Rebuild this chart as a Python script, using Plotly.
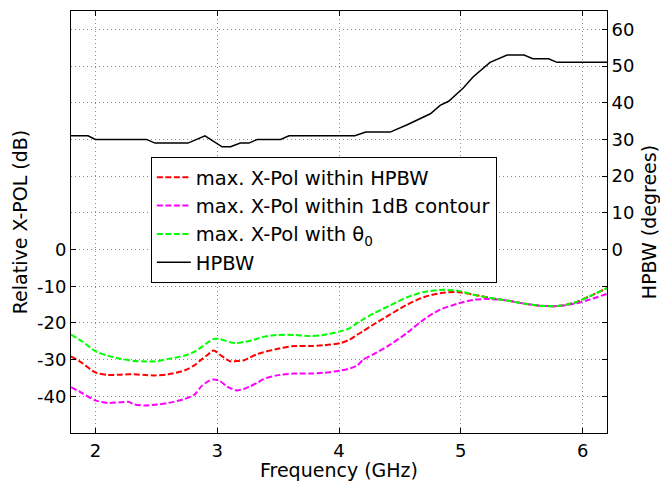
import plotly.graph_objects as go

# ---- data ----
freq_xpol = [1.80, 1.89, 2.00, 2.10, 2.21, 2.27, 2.32, 2.41, 2.49, 2.60, 2.735, 2.815, 2.87, 2.925,
             2.97, 3.02, 3.08, 3.11, 3.16, 3.22, 3.27, 3.33, 3.38, 3.49, 3.63, 3.76, 3.87, 4.01,
             4.09, 4.15, 4.20, 4.28, 4.42, 4.56, 4.695, 4.83, 4.97, 5.105, 5.24, 5.38, 5.515,
             5.65, 5.79, 5.93, 6.06, 6.20]
xpol_hpbw = [-29.1, -30.9, -33.5, -34.2, -34.1, -34.0, -34.0, -34.2, -34.3, -34.0, -32.9, -31.5, -30.0, -28.6,
             -27.5, -28.6, -30.0, -30.5, -30.4, -30.2, -29.4, -28.5, -28.0, -27.1, -26.3, -26.3, -26.1, -25.5,
             -24.5, -23.2, -22.2, -20.5, -17.7, -15.0, -13.0, -11.9, -11.6, -12.3, -13.2, -13.9, -14.7,
             -15.3, -15.4, -14.5, -12.7, -10.5]
xpol_1db = [-37.5, -39.1, -41.1, -41.8, -41.6, -41.5, -42.2, -42.5, -42.3, -41.8, -40.7, -39.5, -37.3, -35.9,
            -35.4, -35.8, -37.3, -37.8, -38.4, -38.0, -37.3, -36.3, -35.3, -34.3, -33.8, -33.8, -33.6, -33.0,
            -32.4, -31.6, -30.0, -28.6, -25.9, -22.7, -19.1, -16.4, -14.8, -13.7, -13.5, -13.9, -14.7,
            -15.3, -15.4, -14.8, -13.6, -12.1]
xpol_theta0 = [-23.2, -25.0, -27.7, -28.9, -29.8, -30.1, -30.4, -30.5, -30.5, -29.8, -28.9, -27.8, -26.6, -25.3,
               -24.4, -24.4, -25.0, -25.3, -25.5, -25.2, -24.9, -24.3, -23.8, -23.3, -23.3, -23.6, -23.3, -22.3,
               -21.4, -20.0, -19.0, -17.5, -15.2, -13.0, -11.6, -11.0, -11.2, -12.3, -13.2, -13.9, -14.7,
               -15.3, -15.4, -14.5, -12.7, -10.5]

freq_hpbw = [1.80, 1.94, 2.00, 2.42, 2.49, 2.76, 2.90, 3.04, 3.11, 3.19, 3.26, 3.33, 3.52, 3.59,
             4.13, 4.22, 4.42, 4.56, 4.75, 4.83, 4.90, 5.02, 5.10, 5.24, 5.38, 5.52, 5.59, 5.72,
             5.79, 6.20]
hpbw_deg = [31, 31, 30, 30, 29, 29, 31, 28, 28, 29, 29, 30, 30, 31,
            31, 32, 32, 34, 37, 39.3, 40.4, 44, 47, 51, 53, 53, 52, 52,
            51, 51]

x_ticks = [2, 3, 4, 5, 6]
y_left_ticks = [-40, -30, -20, -10, 0]
y_left_text = ["-40", "-30", "-20", "-10", "0"]
y_right_ticks = [0, 10, 20, 30, 40, 50, 60]

FONT = "DejaVu Sans"
dash = "6px,2.5px"

fig = go.Figure()
fig.add_trace(go.Scatter(x=freq_xpol, y=xpol_hpbw, mode="lines", name="max. X-Pol within HPBW",
                         line=dict(color="#ff0000", width=2, dash=dash, shape="spline", smoothing=0.8)))
fig.add_trace(go.Scatter(x=freq_xpol, y=xpol_1db, mode="lines", name="max. X-Pol within 1dB contour",
                         line=dict(color="#ff00ff", width=2, dash=dash, shape="spline", smoothing=0.8)))
fig.add_trace(go.Scatter(x=freq_xpol, y=xpol_theta0, mode="lines", name="max. X-Pol with θ<sub>0</sub>",
                         line=dict(color="#00ff00", width=2, dash=dash, shape="spline", smoothing=0.8)))
fig.add_trace(go.Scatter(x=freq_hpbw, y=hpbw_deg, mode="lines", name="HPBW", yaxis="y2",
                         line=dict(color="black", width=1.5)))

grid = dict(showgrid=True, gridcolor="#8a8a8a", griddash="1px,3px", gridwidth=1)

fig.update_layout(
    width=660, height=481,
    margin=dict(l=71, r=53, t=11, b=48),
    paper_bgcolor="white", plot_bgcolor="white",
    font=dict(family=FONT, size=18, color="black"),
    showlegend=True,
    legend=dict(x=0.149, y=0.654, xanchor="left", yanchor="top",
                bordercolor="black", borderwidth=1, bgcolor="white", itemwidth=34,
                font=dict(family=FONT, size=19.5), tracegroupgap=0),
    xaxis=dict(range=[1.8, 6.2], tickvals=x_ticks, ticks="inside", ticklen=5, tickcolor="black",
               showline=True, linecolor="black", linewidth=1, mirror="ticks", zeroline=False,
               ticklabelstandoff=1, automargin=False,
               title=dict(text="Frequency (GHz)", font=dict(size=19), standoff=0),
               tickfont=dict(size=18), **grid),
    yaxis=dict(range=[-50, 65], tickvals=y_left_ticks, ticktext=y_left_text, ticks="inside",
               ticklen=5, tickcolor="black", showline=True, linecolor="black", linewidth=1,
               mirror="ticks", zeroline=False, automargin=False,
               title=dict(text="Relative X-POL (dB)", font=dict(size=19), standoff=4),
               tickfont=dict(size=18), **grid),
    yaxis2=dict(range=[-50, 65], tickvals=y_right_ticks, overlaying="y", side="right",
                ticks="inside", ticklen=5, tickcolor="black", showline=True, linecolor="black",
                linewidth=1, zeroline=False, automargin=False,
                title=dict(text="HPBW (degrees)", font=dict(size=19), standoff=12),
                tickfont=dict(size=18), **grid),
)

fig.write_html("out.html")
